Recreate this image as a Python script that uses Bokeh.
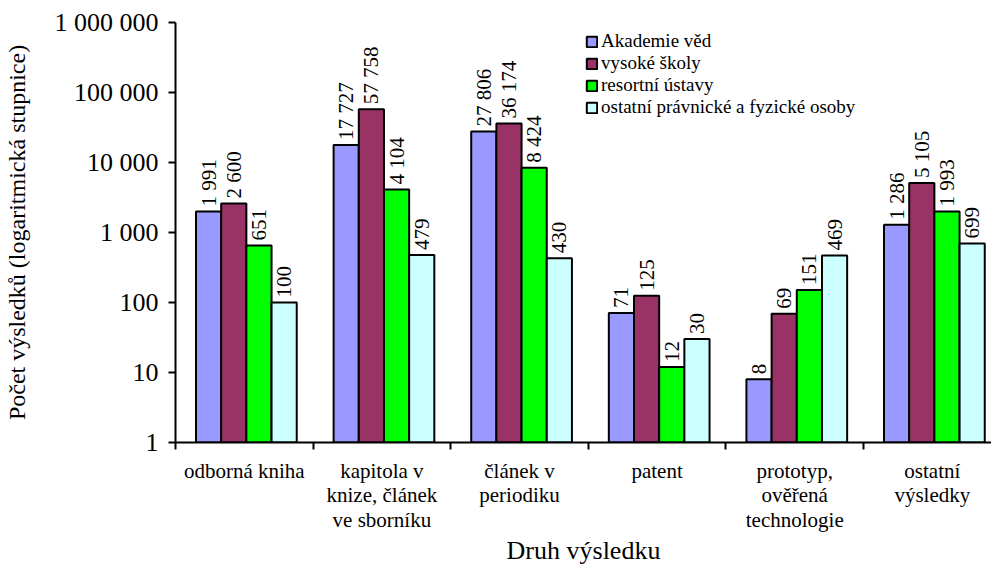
import numpy as np
from bokeh.plotting import figure
from bokeh.models import FixedTicker, Range1d, ColumnDataSource, Legend, LegendItem
from bokeh.core.properties import value
from bokeh.embed import file_html
from bokeh.resources import INLINE

categories = ["odborná kniha", "kapitola v\nknize, článek\nve sborníku", "článek v\nperiodiku",
              "patent", "prototyp,\nověřená\ntechnologie", "ostatní\nvýsledky"]
series = ["Akademie věd", "vysoké školy", "resortní ústavy", "ostatní právnické a fyzické osoby"]
akademie = [1991, 17727, 27806, 71, 8, 1286]
vysoke = [2600, 57758, 36174, 125, 69, 5105]
resortni = [651, 4104, 8424, 12, 151, 1993]
ostatni = [100, 479, 430, 30, 469, 699]
y_ticks = [1, 10, 100, 1000, 10000, 100000, 1000000]
y_tick_labels = ["1", "10", "100", "1 000", "10 000", "100 000", "1 000 000"]
x_title = "Druh výsledku"
y_title = "Počet výsledků (logaritmická stupnice)"
colors = ["#9999FF", "#993366", "#00FF00", "#CCFFFF"]

FONT = "Liberation Serif"
values_all = [akademie, vysoke, resortni, ostatni]
n = len(categories)

p = figure(width=991, height=567, output_backend="svg", toolbar_location=None,
           y_axis_type="log", x_range=Range1d(0, 5.93), y_range=Range1d(1, 1000000),
           min_border_left=170, min_border_top=22, min_border_right=0, min_border_bottom=125)
p.outline_line_color = None
p.xgrid.visible = False
p.ygrid.visible = False

bw = 0.183
renderers = []
for j, (vals, col) in enumerate(zip(values_all, colors)):
    xs = [i + 0.5 + 0.015 + (j - 1.5) * bw for i in range(n)]
    src = ColumnDataSource(dict(x=xs, top=vals, bottom=[1] * n,
                                lab=[f"{v:,}".replace(",", " ") for v in vals]))
    r = p.vbar(x="x", top="top", bottom="bottom", width=bw, source=src,
               fill_color=col, line_color="black", line_width=2)
    renderers.append(r)
    p.text(x="x", y="top", text="lab", source=src, angle=np.pi / 2,
           text_align="left", text_baseline="middle", y_offset=-5,
           text_font=value(FONT), text_font_size="21px", text_color="black")

# x axis
xax = p.xaxis[0]
xax.ticker = FixedTicker(ticks=[i + 0.5 for i in range(n)], minor_ticks=list(range(n + 1)))
xax.major_label_overrides = {i + 0.5: c for i, c in enumerate(categories)}
xax.major_tick_out = 0
xax.major_tick_in = 0
xax.minor_tick_out = 7
xax.minor_tick_in = 0
xax.minor_tick_line_width = 2
xax.minor_tick_line_color = "black"
xax.axis_line_width = 2
xax.axis_line_color = "black"
xax.major_label_text_font = FONT
xax.major_label_text_font_size = "21px"
xax.major_label_text_line_height = 1.03
xax.major_label_text_color = "black"
xax.major_label_standoff = 9
xax.axis_label = x_title
xax.axis_label_text_font = FONT
xax.axis_label_text_font_size = "26px"
xax.axis_label_text_line_height = 1.0
xax.axis_label_text_font_style = "normal"
xax.axis_label_text_color = "black"
xax.axis_label_standoff = 1

# y axis
yax = p.yaxis[0]
yax.ticker = FixedTicker(ticks=y_ticks, minor_ticks=[])
yax.major_label_overrides = {t: l for t, l in zip(y_ticks, y_tick_labels)}
yax.major_tick_out = 7
yax.major_tick_in = 0
yax.major_tick_line_width = 2
yax.major_tick_line_color = "black"
yax.minor_tick_line_color = None
yax.axis_line_width = 2
yax.axis_line_color = "black"
yax.major_label_text_font = FONT
yax.major_label_text_font_size = "26px"
yax.major_label_text_color = "black"
yax.major_label_standoff = 10
yax.axis_label = y_title
yax.axis_label_text_font = FONT
yax.axis_label_text_font_size = "24px"
yax.axis_label_text_font_style = "normal"
yax.axis_label_text_color = "black"
yax.axis_label_standoff = 22

legend_y = [390, 368, 346, 324]
for s, r, ly in zip(series, renderers, legend_y):
    lg = Legend(items=[LegendItem(label=s, renderers=[r])], location=(410, ly))
    lg.label_text_font = FONT
    lg.label_text_font_size = "19px"
    lg.label_text_color = "black"
    lg.label_height = 20
    lg.glyph_height = 13
    lg.glyph_width = 13
    lg.spacing = 0
    lg.padding = 0
    lg.margin = 0
    lg.label_standoff = 3
    lg.border_line_color = None
    lg.background_fill_alpha = 0
    p.add_layout(lg)

open("out.html", "w").write(file_html(p, INLINE))
